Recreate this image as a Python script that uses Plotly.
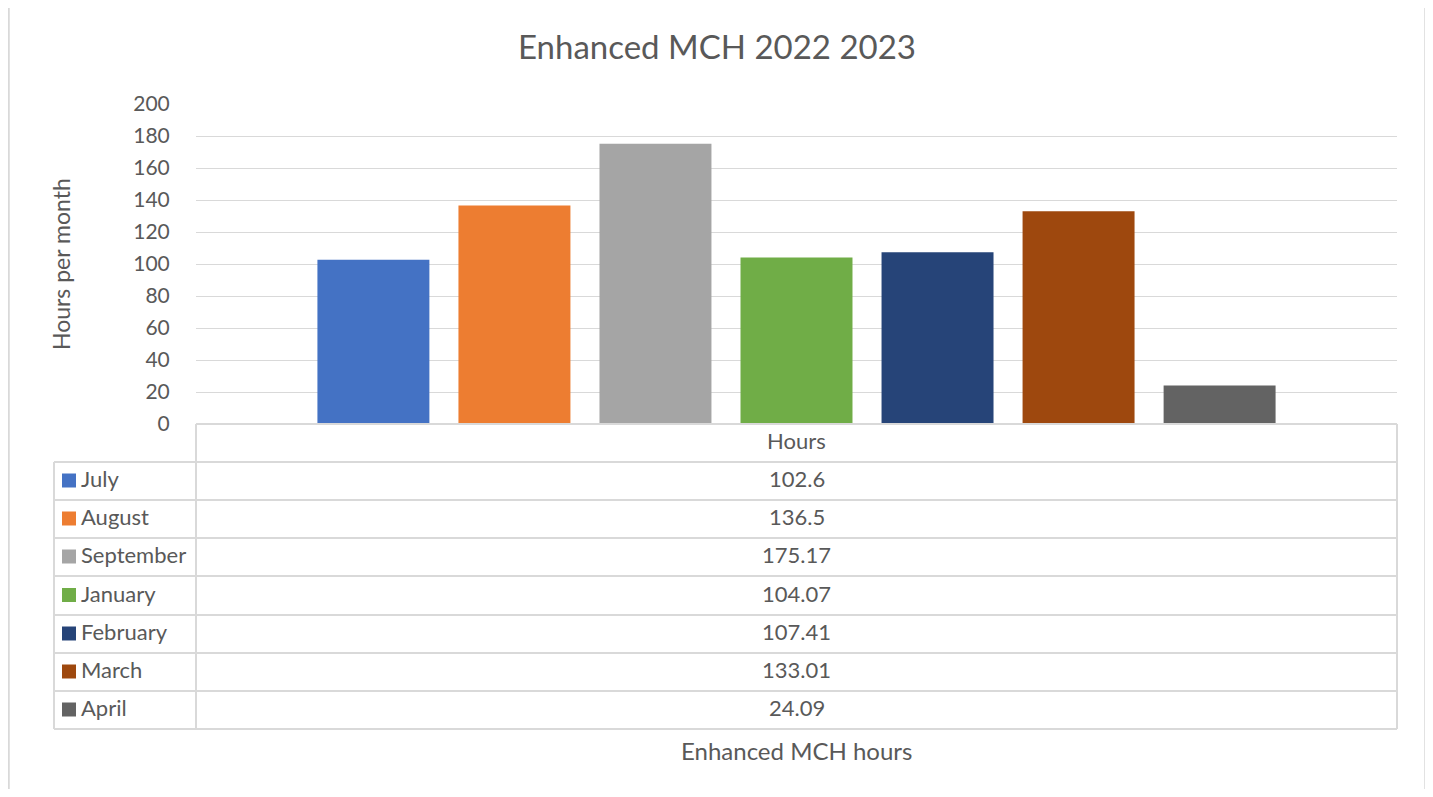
import plotly.graph_objects as go

months = ["July", "August", "September", "January", "February", "March", "April"]
hours = [102.6, 136.5, 175.17, 104.07, 107.41, 133.01, 24.09]
value_labels = ["102.6", "136.5", "175.17", "104.07", "107.41", "133.01", "24.09"]
colors = ["#4472C4", "#ED7D31", "#A5A5A5", "#70AD47", "#264478", "#9E480E", "#636363"]
category = "Hours"
title = "Enhanced MCH 2022 2023"
y_title = "Hours per month"
x_title = "Enhanced MCH hours"
y_ticks = [0, 20, 40, 60, 80, 100, 120, 140, 160, 180, 200]

O = 8  # page body margin offset
W, H = 1433 - 2 * O, 797 - 2 * O
L, R, T, B = 196, 1397, 104, 424  # plot area in screen pixels
PW, PH = R - L, B - T


def px(x):
    return (x - L) / PW


def py(y):
    return (B - y) / PH


FONT = "Lato"
TXT = "#595959"
LINE = "#D9D9D9"

fig = go.Figure()
for m, v, c in zip(months, hours, colors):
    fig.add_trace(go.Bar(x=[category], y=[v], name=m, marker=dict(color=c, line=dict(width=0)),
                         hoverinfo="skip", showlegend=False))

shapes = []
annotations = []

# outer chart border
shapes.append(dict(type="rect", xref="paper", yref="paper", x0=px(8.5), x1=px(1425.5), y0=py(5.5), y1=py(830),
                   line=dict(color=LINE, width=2.5), layer="below"))

# table grid
row_edges = [424, 462, 500, 538, 576, 615, 653, 691, 729]
tl, tc, tr = 54, 196, 1397
for i, yy in enumerate(row_edges):
    x0 = tc if i == 0 else tl
    shapes.append(dict(type="line", xref="paper", yref="paper", x0=px(x0), x1=px(tr), y0=py(yy), y1=py(yy),
                       line=dict(color=LINE, width=2)))
shapes.append(dict(type="line", xref="paper", yref="paper", x0=px(tl), x1=px(tl), y0=py(462), y1=py(729),
                   line=dict(color=LINE, width=2)))
shapes.append(dict(type="line", xref="paper", yref="paper", x0=px(tc), x1=px(tc), y0=py(424), y1=py(729),
                   line=dict(color=LINE, width=2)))
shapes.append(dict(type="line", xref="paper", yref="paper", x0=px(tr), x1=px(tr), y0=py(424), y1=py(729),
                   line=dict(color=LINE, width=2)))

TDY = 2.5  # text sits slightly above cell centre

# header cell
annotations.append(dict(text=category, xref="paper", yref="paper", x=px((tc + tr) / 2),
                        y=py((424 + 462) / 2 - TDY),
                        showarrow=False, xanchor="center", yanchor="middle",
                        font=dict(family=FONT, size=22, color=TXT)))

for i, (m, lab, c) in enumerate(zip(months, value_labels, colors)):
    y0, y1 = row_edges[i + 1], row_edges[i + 2]
    ym = (y0 + y1) / 2
    shapes.append(dict(type="rect", xref="paper", yref="paper", x0=px(62), x1=px(76), y0=py(ym - 7.5),
                       y1=py(ym + 6.5), fillcolor=c, line=dict(width=0)))
    annotations.append(dict(text=m, xref="paper", yref="paper", x=px(79), y=py(ym - TDY), showarrow=False,
                            xanchor="left", yanchor="middle", font=dict(family=FONT, size=22, color=TXT)))
    annotations.append(dict(text=lab, xref="paper", yref="paper", x=px((tc + tr) / 2), y=py(ym - TDY),
                            showarrow=False, xanchor="center", yanchor="middle",
                            font=dict(family=FONT, size=22, color=TXT)))

# titles
annotations.append(dict(text=title, xref="paper", yref="paper", x=px(717), y=py(46), showarrow=False,
                        xanchor="center", yanchor="middle", font=dict(family=FONT, size=33, color=TXT)))
annotations.append(dict(text=y_title, xref="paper", yref="paper", x=px(61), y=py(264), showarrow=False,
                        xanchor="center", yanchor="middle", textangle=-90,
                        font=dict(family=FONT, size=23, color=TXT)))
annotations.append(dict(text=x_title, xref="paper", yref="paper", x=px(796), y=py(750), showarrow=False,
                        xanchor="center", yanchor="middle", font=dict(family=FONT, size=24, color=TXT)))

fig.update_layout(
    width=W, height=H,
    margin=dict(l=L - O, r=(1433 - O) - R, t=T - O, b=(797 - O) - B, pad=0),
    paper_bgcolor="white", plot_bgcolor="white",
    barmode="group", bargap=0.178, bargroupgap=0.206,
    shapes=shapes, annotations=annotations,
    xaxis=dict(showticklabels=False, showgrid=False, zeroline=False, showline=False, ticks=""),
    yaxis=dict(range=[0, 200], tickvals=y_ticks, showgrid=True, gridcolor=LINE, gridwidth=1.3,
               zeroline=False, showline=False, ticks="outside", ticklen=21, tickcolor="rgba(0,0,0,0)",
               tickfont=dict(family=FONT, size=21, color=TXT)),
    showlegend=False,
)

fig.write_html("out.html")
